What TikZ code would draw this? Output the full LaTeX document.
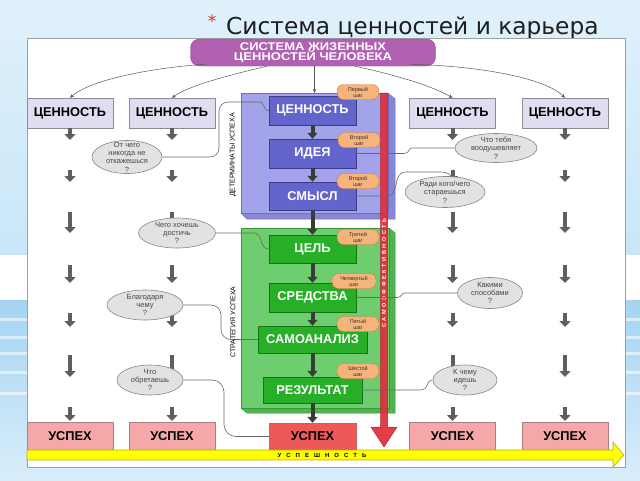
\documentclass[tikz,border=0pt]{standalone}
\usepackage{fontspec}
\setmainfont{Liberation Sans}
\newfontfamily\titlefont{DejaVu Sans}
\usetikzlibrary{arrows.meta,shapes.geometric,calc}
\definecolor{bgblue}{RGB}{200,230,248}
\definecolor{bgdeep}{RGB}{165,212,242}
\definecolor{titlegray}{RGB}{30,30,30}
\definecolor{astred}{RGB}{220,50,40}
\definecolor{hdrfill}{RGB}{178,96,178}
\definecolor{hdredge}{RGB}{140,70,140}
\definecolor{lavfill}{RGB}{222,222,240}
\definecolor{lavedge}{RGB}{140,140,150}
\definecolor{detfill}{RGB}{163,163,233}
\definecolor{detside}{RGB}{135,135,212}
\definecolor{detedge}{RGB}{110,110,190}
\definecolor{purfill}{RGB}{100,100,205}
\definecolor{puredge}{RGB}{60,60,140}
\definecolor{grnpanel}{RGB}{110,205,110}
\definecolor{grnside}{RGB}{80,180,80}
\definecolor{grnedge}{RGB}{60,150,60}
\definecolor{grnfill}{RGB}{40,175,40}
\definecolor{grnbedge}{RGB}{20,115,20}
\definecolor{badgefill}{RGB}{246,180,125}
\definecolor{badgeedge}{RGB}{200,120,60}
\definecolor{ellfill}{RGB}{226,226,226}
\definecolor{elledge}{RGB}{135,135,135}
\definecolor{pinkfill}{RGB}{246,168,168}
\definecolor{pinkedge}{RGB}{175,125,125}
\definecolor{redfill}{RGB}{238,88,88}
\definecolor{barred}{RGB}{225,45,60}
\definecolor{baredge}{RGB}{170,30,40}
\definecolor{yelfill}{RGB}{255,255,0}
\definecolor{yeledge}{RGB}{175,175,30}
\definecolor{arrgray}{RGB}{95,95,95}
\definecolor{darkarr}{RGB}{55,60,55}
\definecolor{connline}{RGB}{105,105,105}
\definecolor{panelline}{RGB}{160,160,160}
\definecolor{qtext}{RGB}{70,70,70}
\begin{document}
\begin{tikzpicture}[x=1pt,y=-1pt,
 boxfont/.style={font=\bfseries\fontsize{12.8}{13}\selectfont},
 valbox/.style={boxfont,draw=lavedge,fill=lavfill,minimum width=86pt,minimum height=30pt,inner sep=0pt},
 innerp/.style={boxfont,draw=puredge,fill=purfill,text=white,minimum width=87pt,minimum height=29pt,inner sep=0pt},
 innerg/.style={boxfont,draw=grnbedge,fill=grnfill,text=white,minimum width=87pt,minimum height=28pt,inner sep=0pt},
 succ/.style={boxfont,draw=pinkedge,fill=pinkfill,minimum width=86pt,minimum height=28pt,inner sep=0pt},
 qell/.style={ellipse,draw=elledge,fill=ellfill,line width=0.6pt,inner sep=0pt},
 qtxt/.style={align=center,inner sep=0pt,text=qtext,font=\fontsize{7.5}{8.3}\selectfont},
 badge/.style={draw=badgeedge,fill=badgefill,rounded corners=6.5pt,minimum width=42pt,minimum height=15pt,inner sep=0pt,align=center,text=black!80,font=\fontsize{5.5}{6}\selectfont},
 garr/.style={draw=arrgray,line width=4pt,-{Triangle[width=11pt,length=6pt]}},
 darr/.style={draw=darkarr,line width=4pt,-{Triangle[width=10pt,length=6pt]}},
 harr/.style={draw=black!65,line width=0.5pt,-{Stealth[length=4pt,width=3.5pt]}},
 conn/.style={draw=connline,line width=0.6pt},
 sidelbl/.style={rotate=90,inner sep=0pt,font=\fontsize{7}{7}\selectfont}
]
\useasboundingbox (0,0) rectangle (640,480);
% background
\fill[bgblue] (0,0) rectangle (640,480);
\shade[top color=bgblue!55!white, bottom color=bgblue] (0,0) rectangle (640,255);
\fill[white] (0,255) rectangle (640,300);
\shade[top color=bgdeep, bottom color=bgblue!70!white] (0,300) rectangle (640,480);
\foreach \yy in {318,336,352,371,392} \fill[white,opacity=0.55] (0,\yy) rectangle (640,\yy+3);
% title
\node[anchor=base west,inner sep=0pt,text=titlegray,font=\titlefont\fontsize{23.3}{23.3}\selectfont] (title) at (226,34) {Система ценностей и карьера};
\node[inner sep=0pt,text=astred,font=\titlefont\fontsize{17}{17}\selectfont] (ast) at (212,21) {*};
% panel
\draw[panelline,fill=white,line width=0.8pt] (27,38) rectangle (625,467);
% header
\node[draw=hdredge,fill=hdrfill,rounded corners=9pt,minimum width=245pt,minimum height=27pt,inner sep=0pt,align=center,text=white,font=\bfseries\fontsize{11.2}{11.2}\selectfont] (sys) at (313,52.5) {\scalebox{1.16}[1]{СИСТЕМА ЖИЗЕННЫХ}\\[-0.8pt]\scalebox{1.16}[1]{ЦЕННОСТЕЙ ЧЕЛОВЕКА}};
% outer value boxes
\node[valbox] (c1) at (70,113) {ЦЕННОСТЬ};
\node[valbox] (c2) at (172,113) {ЦЕННОСТЬ};
\node[valbox] (c3) at (452.5,113) {ЦЕННОСТЬ};
\node[valbox] (c4) at (565,113) {ЦЕННОСТЬ};
% header arrows
\draw[harr] ($(sys.south)+(-108,-2)$) .. controls (150,68) and (90,80) .. (c1.north);
\draw[harr] ($(sys.south)+(-46,0)$) .. controls (230,75) and (190,85) .. (c2.north);
\draw[harr] ($(sys.south)+(42,0)$) .. controls (395,75) and (430,85) .. (c3.north);
\draw[harr] ($(sys.south)+(97,-2)$) .. controls (480,66) and (545,78) .. (c4.north);
% column arrows
\foreach \x in {70,172,452.5,565}{
  \foreach \a/\b in {128/140,170/182,212/233,265/283,313/327,355/377,407/421}{
    \draw[garr] (\x,\a) -- (\x,\b);
  }
}
% determinants panel
\fill[detside,draw=detedge,line width=0.5pt] (388,93) -- (395,99) -- (395,219) -- (247,219) -- (241,213) -- (388,213) -- cycle;
\node[draw=detedge,fill=detfill,minimum width=147pt,minimum height=120pt,inner sep=0pt] (det) at (314.5,153) {};
% strategy panel
\fill[grnside,draw=grnedge,line width=0.5pt] (389,228) -- (395,233) -- (395,413) -- (247,413) -- (241,408) -- (389,408) -- cycle;
\node[draw=grnedge,fill=grnpanel,minimum width=148pt,minimum height=180pt,inner sep=0pt] (str) at (315,318) {};
\draw[harr] (sys.south -| det.north) -- (det.north);
% inner boxes
\node[innerp] (v1) at (312.5,110.5) {ЦЕННОСТЬ};
\node[innerp] (v2) at (312.5,153.5) {ИДЕЯ};
\node[innerp,minimum height=28pt] (v3) at (312.5,196) {СМЫСЛ};
\node[innerg] (g1) at (312.5,249) {ЦЕЛЬ};
\node[innerg,minimum height=29pt] (g2) at (312.5,297.5) {СРЕДСТВА};
\node[innerg,minimum width=109pt,minimum height=27pt] (g3) at (312.5,339.5) {САМОАНАЛИЗ};
\node[innerg,minimum width=99pt,minimum height=26pt] (g4) at (312.5,390) {РЕЗУЛЬТАТ};
% success boxes
\node[succ] (u1) at (70,436) {УСПЕХ};
\node[succ] (u2) at (172,436) {УСПЕХ};
\node[succ,fill=redfill,draw=baredge!70,minimum width=87pt,minimum height=27pt] (u3) at (312.5,436.5) {УСПЕХ};
\node[succ] (u4) at (452.5,436) {УСПЕХ};
\node[succ] (u5) at (565,436) {УСПЕХ};
% inner arrows
\draw[darr] (v1) -- (v2);
\draw[darr] (v2) -- (v3);
\draw[darr] (v3) -- (g1);
\draw[darr] (g1) -- (g2);
\draw[darr] (g2) -- (g3);
\draw[darr] (g3) -- (g4);
\draw[darr] (g4) -- (u3);
% yellow arrow
\fill[yelfill,draw=yeledge,line width=0.6pt] (27,450) -- (613,450) -- (613,442) -- (624,455) -- (613,467) -- (613,460) -- (27,460) -- cycle;
\node[inner sep=0pt,font=\bfseries\fontsize{6}{6}\selectfont] (spn) at (322,455.5) {У\kern5pt С\kern5pt П\kern5pt Е\kern5pt Ш\kern5pt Н\kern5pt О\kern5pt С\kern5pt Т\kern5pt Ь};
% red bar
\fill[barred,draw=baredge,line width=0.5pt,opacity=0.92] (380.5,93) -- (387.5,93) -- (387.5,427) -- (397,427) -- (384,447) -- (371,427) -- (380.5,427) -- cycle;
\node[rotate=90,inner sep=0pt,text=white,font=\bfseries\fontsize{5.5}{5.5}\selectfont] (sef) at (384,273) {С\kern2.6pt А\kern2.6pt М\kern2.6pt О\kern2.6pt Э\kern2.6pt Ф\kern2.6pt Ф\kern2.6pt Е\kern2.6pt К\kern2.6pt Т\kern2.6pt И\kern2.6pt В\kern2.6pt Н\kern2.6pt О\kern2.6pt С\kern2.6pt Т\kern2.6pt Ь};
% ellipses
\node[qell,minimum width=70pt,minimum height=33pt] (e1) at (127,157) {};
\node[qell,minimum width=77pt,minimum height=30pt] (e2) at (177,233) {};
\node[qell,minimum width=76pt,minimum height=30pt] (e3) at (145,305) {};
\node[qell,minimum width=66pt,minimum height=30pt] (e4) at (150,380) {};
\node[qell,minimum width=82pt,minimum height=29pt] (e5) at (496,148) {};
\node[qell,minimum width=80pt,minimum height=31pt] (e6) at (445,192) {};
\node[qell,minimum width=65pt,minimum height=31pt] (e7) at (490,293) {};
\node[qell,minimum width=64pt,minimum height=30pt] (e8) at (465,380) {};
% connectors
\draw[conn,rounded corners=9pt] (e1.east) -- (219,157) -- (219,102) -- (259,102);
\draw[conn] (259,102) .. controls (266,102) and (262,110.5) .. (v1.west);
\draw[conn] (e2.east) -- (254,233) .. controls (263,233) and (259,249) .. (g1.west);
\draw[conn,rounded corners=10pt] (e3.east) -- (221,305) -- (221,339.5) -- (g3.west);
\draw[conn,rounded corners=12pt] (e4.east) -- (224,380) -- (224,436.5) -- (u3.west);
\draw[conn] (e5.west) -- (412,148) .. controls (408,148) and (410,153.5) .. (404,153.5) -- (v2.east);
\draw[conn] (v3.east) -- (388,196) .. controls (399,196) and (393,172) .. (405,172) -- (440,172) .. controls (448,172) and (451,175) .. (e6.70);
\draw[conn] (e7.west) -- (405,293) .. controls (401,293) and (402,297.5) .. (397,297.5) -- (g2.east);
\draw[conn] (e8.west) .. controls (425,380) and (430,390) .. (420,390) -- (g4.east);
% ellipse texts
\node[qtxt] (t1) at (e1) {От чего\\никогда не\\откажешься\\?};
\node[qtxt] (t2) at (e2) {Чего хочешь\\достичь\\?};
\node[qtxt] (t3) at (e3) {Благодаря\\чему\\?};
\node[qtxt] (t4) at (e4) {Что\\обретаешь\\?};
\node[qtxt] (t5) at (e5) {Что тебя\\воодушевляет\\?};
\node[qtxt] (t6) at (e6) {Ради кого/чего\\стараешься\\?};
\node[qtxt] (t7) at (e7) {Какими\\способами\\?};
\node[qtxt] (t8) at (e8) {К чему\\идешь\\?};
% badges
\node[badge] (b1) at (358,92) {Первый\\шаг};
\node[badge] (b2) at (359,140) {Второй\\шаг};
\node[badge] (b3) at (358,181) {Второй\\шаг};
\node[badge] (b4) at (358,237) {Третий\\шаг};
\node[badge,minimum width=44pt] (b5) at (354,281) {Четвертый\\шаг};
\node[badge] (b6) at (358,324) {Пятый\\шаг};
\node[badge] (b7) at (358,371) {Шестой\\шаг};
% side labels
\node[sidelbl] (ld) at (233,155) {ДЕТЕРМИНАТЫ УСПЕХА};
\node[sidelbl] (ls) at (233,322) {СТРАТЕГИЯ УСПЕХА};
\end{tikzpicture}
\end{document}
